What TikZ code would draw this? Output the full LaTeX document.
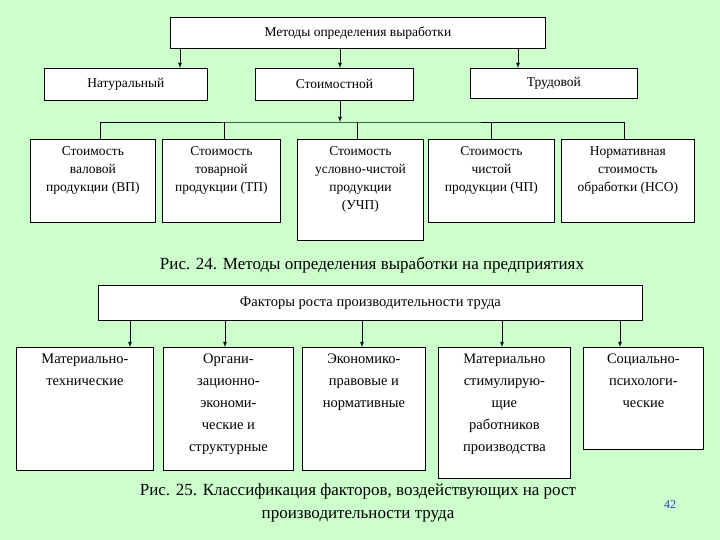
\documentclass[tikz,border=0pt]{standalone}
\usepackage{fontspec}
\setmainfont{Liberation Serif}
\usetikzlibrary{positioning, arrows}
\newcommand{\cell}[3]{\parbox[t][#2][t]{#1}{\centering\rule{0pt}{16pt}#3}}

\begin{document}
\begin{tikzpicture}[>=latex, x=1pt, y=-1pt, font=\fontsize{13.5}{18}\selectfont,
    box/.style={draw, fill=white, anchor=north west, inner sep=0pt, minimum height=#1},
    box/.default=31pt,
    caption/.style={font=\fontsize{17}{23}\selectfont, align=center},
    every path/.style={line width=0.8pt}]
    \fill[fill={rgb,255:red,204;green,255;blue,204}] (0,0) rectangle (720,540);

    % upper diagram
    \node[box, minimum width=375pt] (m) at (170,17) {Методы определения выработки};
    \node[box=32pt, minimum width=163pt] (nat) at (44,68) {Натуральный};
    \node[box=32pt, minimum width=158pt] (st) at (255,68) {Стоимостной};
    \node[box=30pt, minimum width=167pt] (tr) at (470,68) {Трудовой};
    \coordinate (bus) at (340,122);
    \node[box] (v1) at (30,139) {\cell{125pt}{83pt}{Стоимость\\ валовой\\ продукции (ВП)}};
    \node[box] (v2) at (162,139) {\cell{118pt}{83pt}{Стоимость\\ товарной\\ продукции (ТП)}};
    \node[box] (v3) at (297,139) {\cell{126pt}{101pt}{Стоимость\\ условно-чистой\\ продукции\\ (УЧП)}};
    \node[box] (v4) at (428,139) {\cell{126pt}{83pt}{Стоимость\\ чистой\\ продукции (ЧП)}};
    \node[box] (v5) at (561,139) {\cell{133pt}{83pt}{Нормативная\\ стоимость\\ обработки (НСО)}};

    \draw[->] (m.south -| 180,0) -- (nat.north -| 180,0);
    \draw[->] (m.south -| 340,0) -- (st.north -| 340,0);
    \draw[->] (m.south -| 518,0) -- (tr.north -| 518,0);
    \draw[->] (st.south -| bus) -- (bus);
    \draw (v1.north -| 100,0) |- (bus) -| (v5.north -| 624,0);
    \foreach \n/\x in {v2/224, v3/357, v4/491}
        \draw (bus -| \x,0) -- (\n.north -| \x,0);

    \node[caption] (c24) at (372,265) {Рис. 24. Методы определения выработки на предприятиях};

    % lower diagram
    \node[box=35pt, minimum width=544pt] (f) at (98,285) {\fontsize{14.5}{18}\selectfont Факторы роста производительности труда};
    \node[box] (k1) at (16,347) {\cell{137pt}{123pt}{\fontsize{14.5}{22}\selectfont Материально-\\ технические}};
    \node[box] (k2) at (163,347) {\cell{130pt}{123pt}{\fontsize{14.5}{22}\selectfont Органи-\\ зационно-\\ экономи-\\ ческие и\\ структурные}};
    \node[box] (k3) at (302,347) {\cell{123pt}{123pt}{\fontsize{14.5}{22}\selectfont Экономико-\\ правовые и\\ нормативные}};
    \node[box] (k4) at (438,347) {\cell{132pt}{131pt}{\fontsize{14.5}{22}\selectfont Материально\\ стимулирую-\\ щие\\ работников\\ производства}};
    \node[box] (k5) at (583,347) {\cell{120pt}{102pt}{\fontsize{14.5}{22}\selectfont Социально-\\ психологи-\\ ческие}};
    \foreach \n/\x in {k1/130, k2/225, k3/362, k4/502, k5/620}
        \draw[->] (f.south -| \x,0) -- (\n.north -| \x,0);

    \node[caption] (c25) at (358,503) {Рис. 25. Классификация факторов, воздействующих на рост\\ производительности труда};
    \node[font=\fontsize{12}{13}\selectfont, text={rgb,255:red,40;green,70;blue,200}] (pg) at (670,505) {42};
\end{tikzpicture}
\end{document}
